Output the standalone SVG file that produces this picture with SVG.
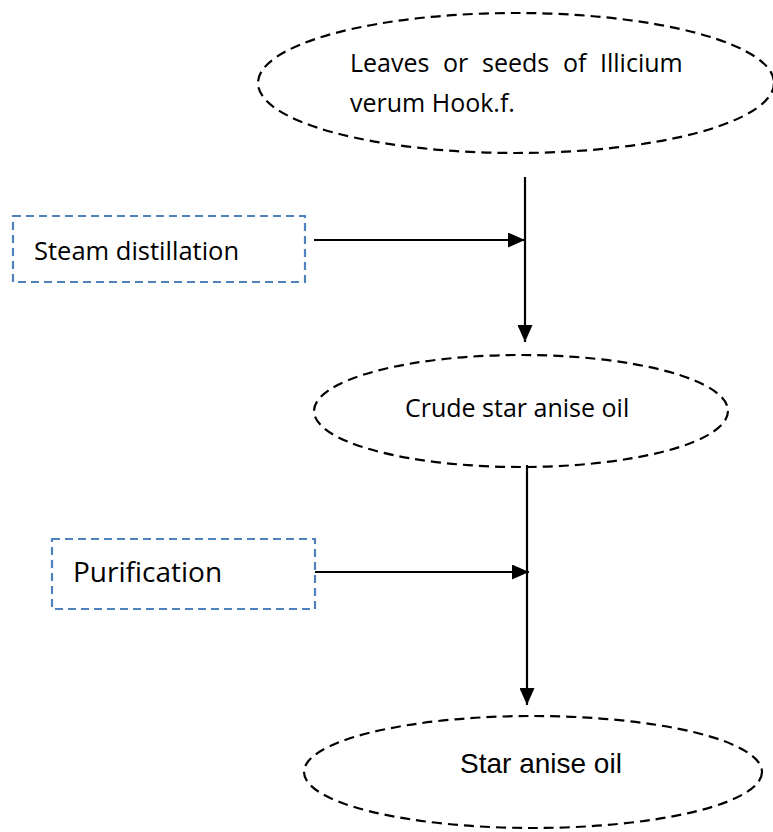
<svg xmlns="http://www.w3.org/2000/svg" width="773" height="832" viewBox="0 0 773 832">
<style>
.ell{fill:none;stroke:#000;stroke-width:2.2;stroke-dasharray:10 6}
.box{fill:none;stroke:#4f81bd;stroke-width:2.2;stroke-dasharray:8 5}
.t{font-family:"Open Sans","DejaVu Sans",sans-serif;font-size:25px;fill:#000}
.a{font-family:"Liberation Sans",Arial,sans-serif;font-size:28px;fill:#000}
.c{stroke:#000;stroke-width:2.2;fill:none}
</style>
<defs>
<marker id="ah" markerWidth="17" markerHeight="15" refX="17" refY="7.5" orient="auto" markerUnits="userSpaceOnUse">
<path d="M0,0 L17,7.5 L0,15 Z" fill="#000"/>
</marker>
</defs>
<rect width="773" height="832" fill="#fff"/>
<g id="connectors">
<line class="c" x1="525" y1="177" x2="525" y2="342" marker-end="url(#ah)"/>
<line class="c" x1="314" y1="240" x2="525" y2="240" marker-end="url(#ah)"/>
<line class="c" x1="527" y1="465" x2="527" y2="705" marker-end="url(#ah)"/>
<line class="c" x1="315" y1="572" x2="529" y2="572" marker-end="url(#ah)"/>
</g>
<g id="node-leaves">
<ellipse class="ell" cx="516" cy="83" rx="258" ry="70"/>
<text class="t" y="72"><tspan x="350">Leaves</tspan><tspan x="443">or</tspan><tspan x="482">seeds</tspan><tspan x="563">of</tspan><tspan x="600">Illicium</tspan></text>
<text class="t" x="350" y="112">verum Hook.f.</text>
</g>
<g id="node-steam">
<rect class="box" x="13" y="216" width="292" height="66"/>
<text class="t" x="34" y="260" style="font-size:25.5px">Steam distillation</text>
</g>
<g id="node-crude">
<ellipse class="ell" cx="521" cy="411" rx="207" ry="56"/>
<text class="t" x="405" y="417">Crude star anise oil</text>
</g>
<g id="node-purification">
<rect class="box" x="52" y="539" width="263" height="70"/>
<text class="t" x="73" y="582" style="font-size:28px">Purification</text>
</g>
<g id="node-star">
<ellipse class="ell" cx="533" cy="772" rx="229" ry="56"/>
<text class="a" x="460" y="773">Star anise oil</text>
</g>
</svg>
